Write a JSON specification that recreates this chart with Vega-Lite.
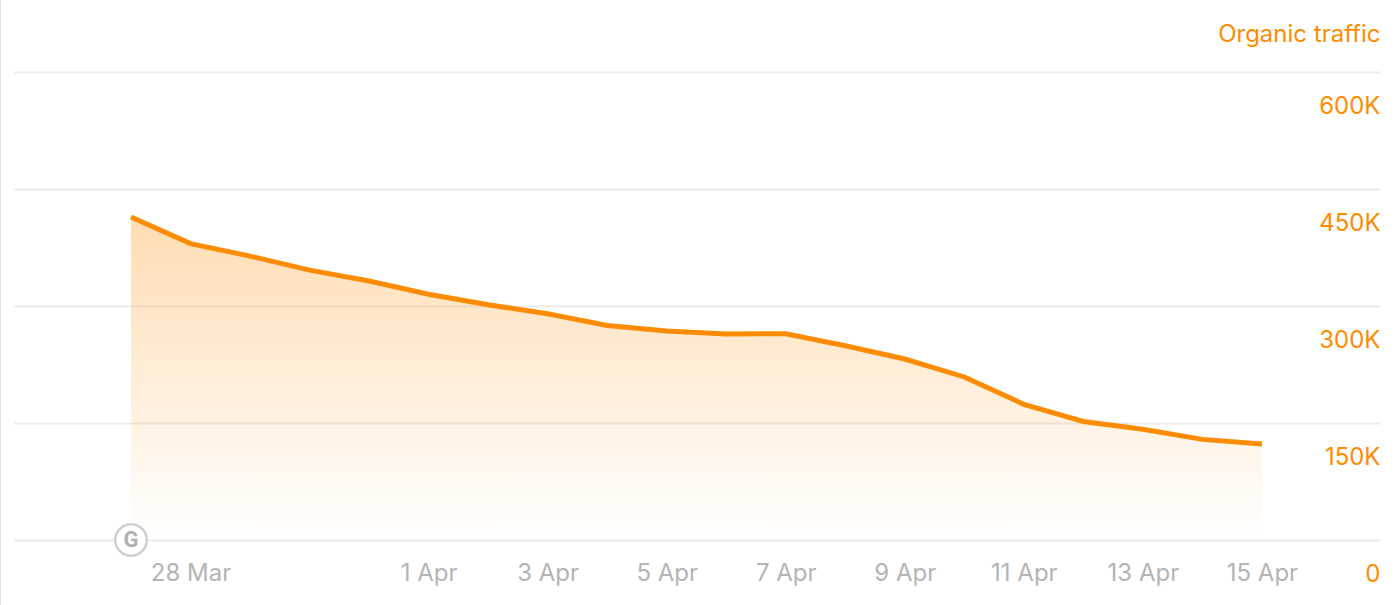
{
  "$schema": "https://vega.github.io/schema/vega-lite/v6.json",
  "width": 1366,
  "height": 468,
  "autosize": {"type": "none"},
  "padding": {"left": 14, "top": 72, "right": 20, "bottom": 65},
  "background": "white",
  "config": {
    "view": {"stroke": null},
    "font": "Inter"
  },
  "datasets": {
    "traffic": [
      {"date": "2024-03-27T00:00:00Z", "traffic": 414000},
      {"date": "2024-03-28T00:00:00Z", "traffic": 380000},
      {"date": "2024-03-29T00:00:00Z", "traffic": 364000},
      {"date": "2024-03-30T00:00:00Z", "traffic": 346000},
      {"date": "2024-03-31T00:00:00Z", "traffic": 332000},
      {"date": "2024-04-01T00:00:00Z", "traffic": 315000},
      {"date": "2024-04-02T00:00:00Z", "traffic": 301500},
      {"date": "2024-04-03T00:00:00Z", "traffic": 290000},
      {"date": "2024-04-04T00:00:00Z", "traffic": 275000},
      {"date": "2024-04-05T00:00:00Z", "traffic": 268000},
      {"date": "2024-04-06T00:00:00Z", "traffic": 264000},
      {"date": "2024-04-07T00:00:00Z", "traffic": 264500},
      {"date": "2024-04-08T00:00:00Z", "traffic": 249000},
      {"date": "2024-04-09T00:00:00Z", "traffic": 232000},
      {"date": "2024-04-10T00:00:00Z", "traffic": 209000},
      {"date": "2024-04-11T00:00:00Z", "traffic": 174000},
      {"date": "2024-04-12T00:00:00Z", "traffic": 152000},
      {"date": "2024-04-13T00:00:00Z", "traffic": 142000},
      {"date": "2024-04-14T00:00:00Z", "traffic": 129000},
      {"date": "2024-04-15T00:00:00Z", "traffic": 123000}
    ],
    "updates": [
      {"date": "2024-03-27T00:00:00Z", "traffic": 0, "label": "G"}
    ],
    "edge": [
      {"date": "2024-03-24T19:10:00Z", "top": 692000, "bottom": -83000}
    ]
  },
  "layer": [
    {
      "data": {"name": "edge"},
      "mark": {"type": "rule", "color": "#d4d4d4", "strokeWidth": 1.5, "clip": false},
      "encoding": {
        "x": {
          "field": "date",
          "type": "temporal",
          "scale": {"type": "utc", "domain": ["2024-03-25T00:49:00Z", "2024-04-16T23:36:00Z"]},
          "axis": {
            "values": ["2024-03-28T00:00:00Z", "2024-04-01T00:00:00Z", "2024-04-03T00:00:00Z", "2024-04-05T00:00:00Z", "2024-04-07T00:00:00Z", "2024-04-09T00:00:00Z", "2024-04-11T00:00:00Z", "2024-04-13T00:00:00Z", "2024-04-15T00:00:00Z"],
            "format": "%-d %b",
            "title": null,
            "grid": false,
            "domain": false,
            "ticks": false,
            "labelColor": "#b4b4b4",
            "labelFontSize": 24,
            "labelBaseline": "middle",
            "labelPadding": 33,
            "labelFlush": false,
            "labelOverlap": false
          }
        },
        "y": {
          "field": "top",
          "type": "quantitative",
          "scale": {"domain": [0, 600000], "nice": false},
          "axis": {
            "orient": "right",
            "values": [0, 150000, 300000, 450000, 600000],
            "labelExpr": "datum.value === 0 ? '0' : (datum.value / 1000) + 'K'",
            "grid": true,
            "gridColor": "#ebebeb",
            "gridWidth": 2,
            "domain": false,
            "ticks": false,
            "labelColor": "#ff8c00",
            "labelFontSize": 24,
            "labelAlign": "right",
            "labelBaseline": "middle",
            "labelOffset": 34,
            "labelPadding": 0,
            "title": "Organic traffic",
            "titleColor": "#ff8c00",
            "titleFontSize": 24,
            "titleFontWeight": "normal",
            "titleAngle": 0,
            "titleAlign": "right",
            "titleBaseline": "middle",
            "titleX": 0,
            "titleY": -38
          }
        },
        "y2": {"field": "bottom"}
      }
    },
    {
      "data": {"name": "traffic"},
      "mark": {
        "type": "area",
        "color": {
          "gradient": "linear",
          "x1": 0, "y1": 0, "x2": 0, "y2": 1,
          "stops": [
            {"offset": 0, "color": "rgba(255,140,0,0.3)"},
            {"offset": 1, "color": "rgba(255,140,0,0)"}
          ]
        }
      },
      "encoding": {
        "x": {"field": "date", "type": "temporal"},
        "y": {"field": "traffic", "type": "quantitative"}
      }
    },
    {
      "data": {"name": "traffic"},
      "mark": {"type": "line", "color": "#ff8c00", "strokeWidth": 5},
      "encoding": {
        "x": {"field": "date", "type": "temporal"},
        "y": {"field": "traffic", "type": "quantitative"}
      }
    },
    {
      "data": {"name": "updates"},
      "mark": {"type": "point", "shape": "circle", "filled": false, "fill": "white", "fillOpacity": 1, "stroke": "#cfcfcf", "strokeWidth": 2.5, "size": 1000, "opacity": 1},
      "encoding": {
        "x": {"field": "date", "type": "temporal"},
        "y": {"field": "traffic", "type": "quantitative"}
      }
    },
    {
      "data": {"name": "updates"},
      "mark": {"type": "text", "fontSize": 22, "fontWeight": "bold", "color": "#b0b0b0", "font": "Roboto", "baseline": "middle", "align": "center"},
      "encoding": {
        "x": {"field": "date", "type": "temporal"},
        "y": {"field": "traffic", "type": "quantitative"},
        "text": {"field": "label"}
      }
    }
  ]
}
